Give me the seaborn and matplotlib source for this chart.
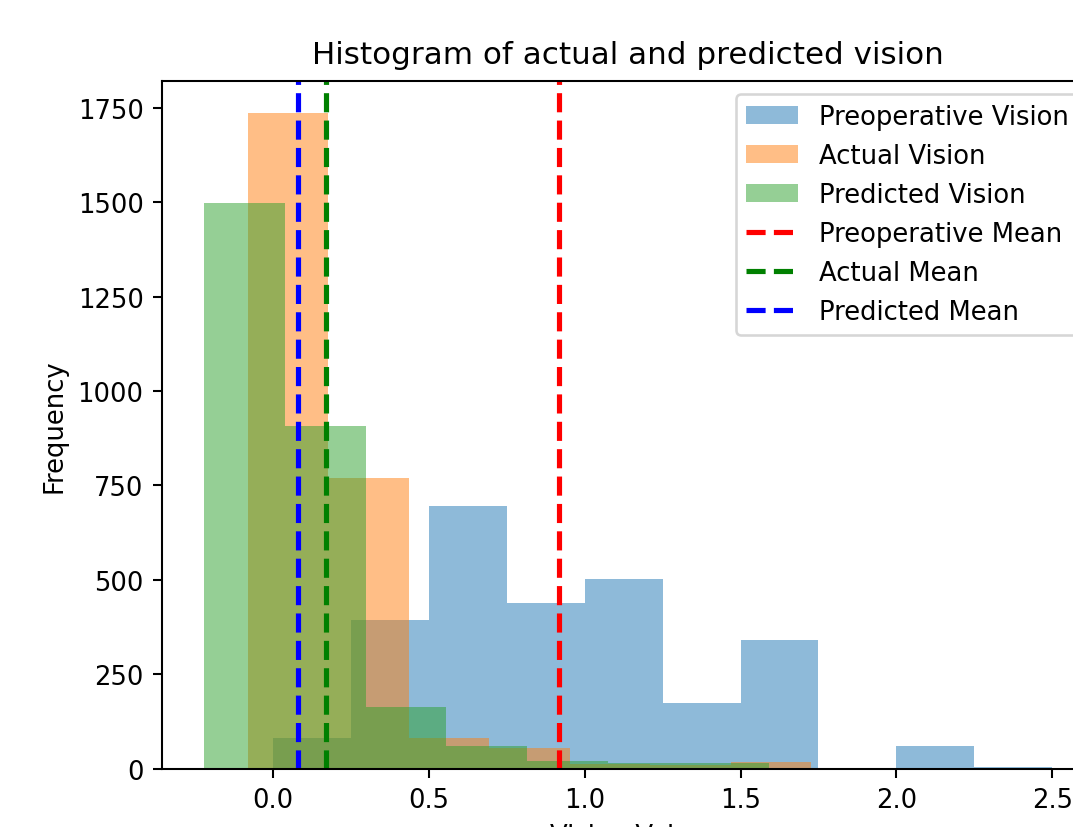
import matplotlib
matplotlib.use("Agg")
import matplotlib.pyplot as plt
import seaborn as sns
import numpy as np
import pandas as pd

# Bin edges and counts (10 bins per series)
preop_edges = [0.0, 0.25, 0.5, 0.75, 1.0, 1.25, 1.5, 1.75, 2.0, 2.25, 2.5]
preop_counts = [80, 395, 696, 440, 503, 175, 342, 0, 60, 5]

actual_edges = [-0.080, 0.178, 0.436, 0.694, 0.952, 1.210, 1.468, 1.726, 1.984, 2.242, 2.500]
actual_counts = [1735, 770, 80, 55, 12, 10, 17, 0, 0, 1]

pred_edges = [-0.221, 0.038, 0.297, 0.556, 0.815, 1.074, 1.333, 1.592, 1.851, 2.110, 2.369]
pred_counts = [1499, 908, 164, 60, 20, 15, 15, 0, 0, 1]

# Means of each series
preop_mean = 0.918
actual_mean = 0.169
pred_mean = 0.079

series = [
    ("Preoperative Vision", preop_edges, preop_counts, "C0"),
    ("Actual Vision", actual_edges, actual_counts, "C1"),
    ("Predicted Vision", pred_edges, pred_counts, "C2"),
]
means = [
    ("Preoperative Mean", preop_mean, "red"),
    ("Actual Mean", actual_mean, "green"),
    ("Predicted Mean", pred_mean, "blue"),
]

fig = plt.figure(figsize=(1073 / 186, 828 / 186), dpi=186)
ax = fig.add_axes([0.1507, 0.0704, 0.8695, 0.8309])

hist_handles = []
for label, edges, counts, color in series:
    e = np.array(edges)
    df = pd.DataFrame({"value": (e[:-1] + e[1:]) / 2, "count": counts})
    sns.histplot(data=df, x="value", weights="count", bins=list(edges), color=color,
                 alpha=0.5, edgecolor="none", linewidth=0, ax=ax, label=label)
    hist_handles.append(ax.containers[-1])

line_handles = []
for label, value, color in means:
    line_handles.append(ax.axvline(value, color=color, linestyle="--", linewidth=2, label=label))

# same padding as matplotlib's default autoscale
all_edges = preop_edges + actual_edges + pred_edges
lo, hi = min(all_edges), max(all_edges)
pad = 0.05 * (hi - lo)
ax.set_xlim(lo - pad, hi + pad)

ax.set_title("Histogram of actual and predicted vision", fontsize=12, pad=7)
ax.set_xlabel("Vision Value")
ax.set_ylabel("Frequency")
ax.legend(handles=hist_handles + line_handles,
          labels=[s[0] for s in series] + [m[0] for m in means],
          loc="upper right", bbox_to_anchor=(0.997, 1.0))

fig.savefig("out.png", dpi=186)
